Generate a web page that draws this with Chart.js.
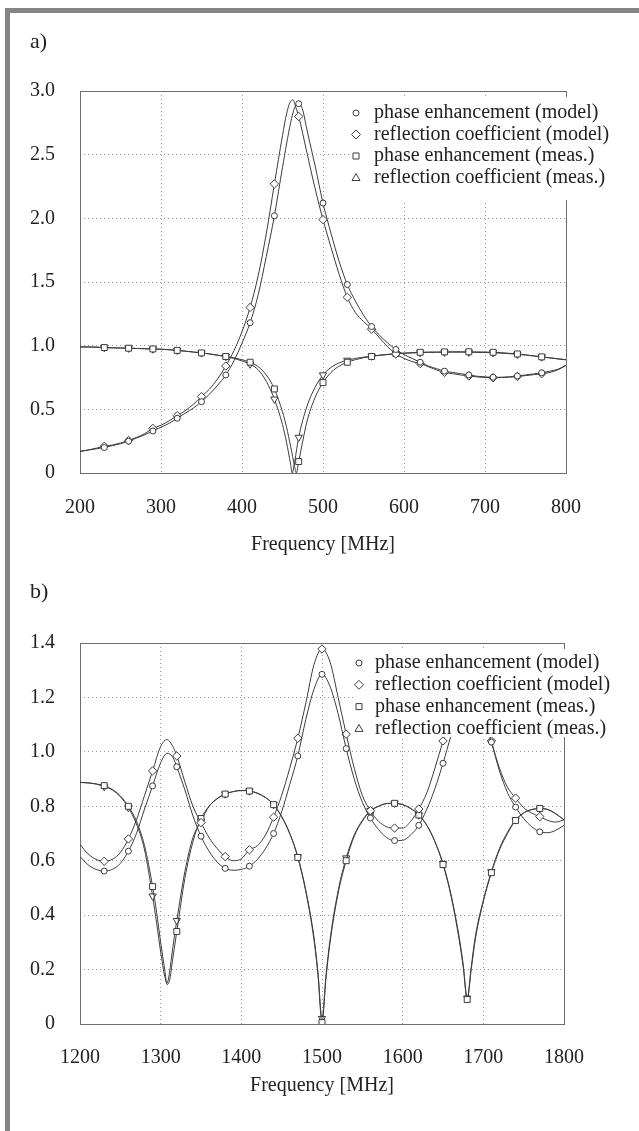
<!DOCTYPE html>
<html>
<head>
<meta charset="utf-8">
<script src="https://cdn.jsdelivr.net/npm/chart.js@4.4.0/dist/chart.umd.min.js"></script>
<style>
  html, body { margin: 0; padding: 0; background: #fff; }
  body { width: 639px; height: 1131px; position: relative; overflow: hidden; }
  .bar-top { position: absolute; left: 5px; top: 8px; width: 634px; height: 5px; background: #858585; }
  .bar-left { position: absolute; left: 5px; top: 8px; width: 5px; height: 1123px; background: #858585; }
  canvas { position: absolute; left: 0; }
  #chartA { top: 0; }
  #chartB { top: 570px; }
</style>
</head>
<body>
<div class="bar-top"></div>
<div class="bar-left"></div>
<canvas id="chartA" width="639" height="570"></canvas>
<canvas id="chartB" width="639" height="561"></canvas>
<script>
const seriesNames = ['phase enhancement (model)', 'reflection coefficient (model)', 'phase enhancement (meas.)', 'reflection coefficient (meas.)'];

// ---- a) 200 - 800 MHz ----
const aCircleF = [200,210,220,230,240,250,260,270,280,290,300,310,320,330,340,350,360,370,380,390,400,410,420,430,440,450,460,465,470,475,480,490,500,510,520,530,540,550,560,570,580,590,600,610,620,630,640,650,660,670,680,690,700,710,720,730,740,750,760,770,780,790,800];
const aCircleV = [0.17,0.18,0.19,0.20,0.215,0.23,0.25,0.275,0.30,0.33,0.36,0.39,0.43,0.47,0.51,0.56,0.62,0.69,0.77,0.88,1.02,1.18,1.40,1.70,2.02,2.40,2.75,2.87,2.90,2.85,2.70,2.42,2.12,1.88,1.66,1.48,1.35,1.24,1.15,1.08,1.02,0.97,0.93,0.90,0.87,0.84,0.82,0.80,0.79,0.78,0.77,0.76,0.755,0.752,0.752,0.756,0.762,0.77,0.778,0.787,0.80,0.815,0.845];

const aDiamondF = [200,210,220,230,240,250,260,270,280,290,300,310,320,330,340,350,360,370,380,390,400,410,420,430,440,450,455,460,463,466,470,480,490,500,510,520,530,540,550,560,570,580,590,600,610,620,630,640,650,660,670,680,690,700,710,720,730,740,750,760,770,780,790,800];
const aDiamondV = [0.17,0.18,0.195,0.21,0.22,0.235,0.255,0.28,0.31,0.35,0.375,0.41,0.45,0.49,0.54,0.60,0.66,0.74,0.84,0.96,1.11,1.30,1.55,1.88,2.27,2.65,2.82,2.92,2.93,2.88,2.80,2.52,2.24,1.99,1.77,1.56,1.38,1.26,1.19,1.13,1.06,0.99,0.935,0.90,0.875,0.86,0.835,0.81,0.79,0.78,0.77,0.762,0.755,0.75,0.748,0.75,0.752,0.758,0.765,0.772,0.78,0.79,0.81,0.845];

const aSquareF = [200,210,220,230,240,250,260,270,280,290,300,310,320,330,340,350,360,370,380,390,400,410,420,430,440,450,455,460,465,467,470,475,480,490,500,510,520,530,540,550,560,570,580,590,600,610,620,630,640,650,660,670,680,690,700,710,720,730,740,750,760,770,780,790,800];
const aSquareV = [0.99,0.99,0.988,0.985,0.983,0.982,0.98,0.978,0.976,0.974,0.972,0.968,0.963,0.957,0.95,0.943,0.935,0.925,0.915,0.905,0.89,0.87,0.835,0.77,0.66,0.48,0.36,0.21,0.05,0.0,0.09,0.25,0.40,0.59,0.71,0.79,0.84,0.87,0.89,0.905,0.915,0.925,0.932,0.938,0.942,0.945,0.948,0.95,0.95,0.951,0.952,0.952,0.952,0.951,0.95,0.948,0.945,0.94,0.935,0.928,0.92,0.912,0.905,0.897,0.89];

const aTriangleF = [200,210,220,230,240,250,260,270,280,290,300,310,320,330,340,350,360,370,380,390,400,410,420,430,440,450,455,460,462,465,470,480,490,500,510,520,530,540,550,560,570,580,590,600,610,620,630,640,650,660,670,680,690,700,710,720,730,740,750,760,770,780,790,800];
const aTriangleV = [0.99,0.99,0.988,0.985,0.983,0.982,0.98,0.978,0.976,0.974,0.972,0.968,0.963,0.957,0.95,0.943,0.935,0.925,0.915,0.9,0.88,0.855,0.81,0.72,0.58,0.38,0.24,0.07,0.0,0.09,0.28,0.52,0.67,0.77,0.83,0.865,0.885,0.90,0.91,0.918,0.925,0.93,0.935,0.94,0.943,0.945,0.947,0.948,0.948,0.949,0.949,0.948,0.947,0.946,0.944,0.941,0.937,0.932,0.926,0.919,0.911,0.904,0.896,0.889];

const aMarks = [230,260,290,320,350,380,410,440,470,500,530,560,590,620,650,680,710,740,770];

// ---- b) 1200 - 1800 MHz ----
const bPeakF = [1200,1210,1220,1230,1240,1250,1260,1270,1280,1290,1300,1308,1315,1320,1330,1340,1350,1360,1370,1380,1390,1400,1410,1420,1430,1440,1450,1460,1470,1480,1490,1500,1510,1520,1530,1540,1550,1560,1570,1580,1590,1600,1610,1620,1630,1640,1650,1660,1670,1680,1690,1700,1710,1720,1730,1740,1750,1760,1770,1780,1790,1800];
const bCircleV = [0.615,0.585,0.568,0.562,0.568,0.59,0.635,0.70,0.79,0.875,0.96,0.995,0.98,0.945,0.86,0.765,0.69,0.635,0.595,0.572,0.565,0.568,0.58,0.605,0.645,0.70,0.78,0.88,0.985,1.12,1.23,1.285,1.24,1.14,1.012,0.90,0.815,0.757,0.715,0.685,0.674,0.675,0.695,0.73,0.79,0.865,0.958,1.06,1.15,1.2,1.2,1.13,1.036,0.93,0.85,0.797,0.755,0.725,0.706,0.703,0.712,0.73];
const bDiamondV = [0.66,0.625,0.605,0.598,0.605,0.63,0.68,0.75,0.84,0.93,1.02,1.045,1.02,0.985,0.89,0.80,0.74,0.685,0.645,0.615,0.60,0.607,0.64,0.655,0.695,0.76,0.84,0.94,1.05,1.18,1.32,1.378,1.33,1.2,1.065,0.94,0.84,0.784,0.745,0.725,0.72,0.72,0.745,0.79,0.85,0.94,1.04,1.14,1.24,1.28,1.26,1.16,1.04,0.94,0.87,0.83,0.795,0.775,0.762,0.748,0.742,0.75];

const bDipF = [1200,1210,1220,1230,1240,1250,1260,1270,1280,1290,1295,1300,1305,1308,1311,1315,1320,1330,1340,1350,1360,1370,1380,1390,1400,1410,1420,1430,1440,1450,1460,1470,1480,1490,1495,1500,1505,1510,1520,1530,1540,1550,1560,1570,1580,1590,1600,1610,1620,1630,1640,1650,1660,1670,1675,1680,1685,1690,1700,1710,1720,1730,1740,1750,1760,1770,1780,1790,1800];
const bSquareV = [0.888,0.886,0.882,0.876,0.862,0.838,0.80,0.745,0.655,0.505,0.41,0.30,0.20,0.145,0.16,0.24,0.34,0.535,0.67,0.755,0.80,0.828,0.845,0.854,0.858,0.856,0.848,0.832,0.806,0.762,0.70,0.612,0.485,0.31,0.18,0.005,0.17,0.30,0.48,0.60,0.69,0.745,0.782,0.80,0.81,0.811,0.806,0.792,0.768,0.73,0.67,0.586,0.47,0.31,0.21,0.09,0.2,0.31,0.45,0.556,0.64,0.70,0.748,0.775,0.788,0.792,0.788,0.772,0.75];
const bTriangleV = [0.888,0.886,0.882,0.872,0.86,0.835,0.795,0.735,0.64,0.47,0.37,0.265,0.175,0.15,0.19,0.28,0.38,0.56,0.685,0.745,0.80,0.828,0.845,0.854,0.858,0.856,0.848,0.832,0.806,0.762,0.70,0.615,0.49,0.32,0.19,0.02,0.18,0.31,0.49,0.61,0.695,0.748,0.784,0.80,0.81,0.811,0.806,0.792,0.768,0.73,0.67,0.59,0.475,0.32,0.22,0.095,0.21,0.32,0.455,0.56,0.645,0.705,0.75,0.776,0.788,0.792,0.788,0.772,0.75];

const bMarks = [1230,1260,1290,1320,1350,1380,1410,1440,1470,1500,1530,1560,1590,1620,1650,1680,1710,1740,1770];

// ---- drawing ----
const FONT = '"Liberation Serif", "Times New Roman", serif';
Chart.defaults.font.family = FONT;
Chart.defaults.font.size = 20;
Chart.defaults.color = '#222';

const shapes = ['circle', 'rectRot', 'rect', 'triangle'];
const radii = [3, 4.2, 4.2, 4.2];
const rotations = [0, 0, 0, 180];
const INK = '#3c3c3c';

function pairs(f, v) { return f.map((x, i) => ({ x: x, y: v[i] })); }

// open marker shapes for the legend
function drawMark(c, style, x, y) {
  c.beginPath();
  if (style === 'circle') c.arc(x, y, 3, 0, Math.PI * 2);
  else if (style === 'rectRot') { c.moveTo(x, y - 4.5); c.lineTo(x + 4.5, y); c.lineTo(x, y + 4.5); c.lineTo(x - 4.5, y); c.closePath(); }
  else if (style === 'rect') c.rect(x - 3, y - 3, 6, 6);
  else { c.moveTo(x, y - 4); c.lineTo(x + 4, y + 3); c.lineTo(x - 4, y + 3); c.closePath(); }
  c.fillStyle = '#fff'; c.fill();
  c.lineWidth = 1; c.strokeStyle = INK; c.stroke();
}

const frame = {
  id: 'frame',
  beforeDatasetsDraw(chart) {
    const a = chart.chartArea, c = chart.ctx;
    c.save();
    c.strokeStyle = '#6e6e6e'; c.lineWidth = 1;
    c.strokeRect(Math.round(a.left) + 0.5, Math.round(a.top) + 0.5, Math.round(a.right - a.left), Math.round(a.bottom - a.top));
    c.restore();
  }
};

const legendBox = {
  id: 'legendBox',
  afterDatasetsDraw(chart, args, o) {
    const c = chart.ctx;
    c.save();
    c.fillStyle = '#fff';
    c.fillRect(o.x1, o.y1, o.x2 - o.x1, o.y2 - o.y1);
    c.font = '20px ' + FONT;
    c.textBaseline = 'middle';
    c.textAlign = 'left';
    chart.data.datasets.forEach((ds, i) => {
      const y = o.row0 + i * o.step;
      drawMark(c, shapes[i], o.mx, y);
      c.fillStyle = '#222';
      c.fillText(ds.label, o.tx, y);
    });
    c.restore();
  }
};

const captions = {
  id: 'captions',
  afterDraw(chart, args, o) {
    const c = chart.ctx, a = chart.chartArea;
    c.save();
    c.fillStyle = '#222';
    c.textBaseline = 'middle';
    c.font = '22px ' + FONT;
    c.textAlign = 'left';
    c.fillText(o.panel, 30, o.panelY);
    c.font = '20px ' + FONT;
    c.textAlign = 'center';
    c.fillText('Frequency [MHz]', (a.left + a.right) / 2, o.titleY);
    c.restore();
  }
};

function makeChart(id, p) {
  const datasets = p.series.map((s, i) => ({
    label: seriesNames[i],
    data: pairs(s[0], s[1]),
    borderColor: INK,
    borderWidth: 1,
    backgroundColor: '#fff',
    pointStyle: shapes[i],
    pointRotation: rotations[i],
    pointBorderColor: INK,
    pointBorderWidth: 1,
    pointBackgroundColor: '#fff',
    pointRadius: ctx => (ctx.raw && p.marks.includes(ctx.raw.x)) ? radii[i] : 0,
    pointHoverRadius: 0,
    cubicInterpolationMode: 'monotone',
    fill: false
  }));
  return new Chart(document.getElementById(id), {
    type: 'line',
    data: { datasets: datasets },
    options: {
      responsive: false,
      animation: false,
      events: [],
      layout: { padding: { left: 0, top: p.padTop, right: p.padRight, bottom: 0 } },
      scales: {
        x: {
          type: 'linear', min: p.xMin, max: p.xMax,
          afterFit: s => { s.height = p.xHeight; },
          ticks: { stepSize: 100, padding: p.xPad, maxRotation: 0, autoSkip: false, callback: v => String(v) },
          grid: { color: '#9a9a9a', lineWidth: 1, drawTicks: false },
          border: { display: false, dash: [1, 3] }
        },
        y: {
          min: 0, max: p.yMax,
          afterFit: s => { s.width = 80; },
          ticks: { stepSize: p.yStep, padding: 25, callback: v => v === 0 ? '0' : v.toFixed(1) },
          grid: { color: '#9a9a9a', lineWidth: 1, drawTicks: false },
          border: { display: false, dash: [1, 3] }
        }
      },
      plugins: {
        legend: { display: false },
        tooltip: { enabled: false },
        legendBox: p.legend,
        captions: p.captions
      }
    },
    plugins: [frame, legendBox, captions]
  });
}

makeChart('chartA', {
  series: [[aCircleF, aCircleV], [aDiamondF, aDiamondV], [aSquareF, aSquareV], [aTriangleF, aTriangleV]],
  marks: aMarks,
  xMin: 200, xMax: 800, yMax: 3, yStep: 0.5,
  padTop: 91, padRight: 73, xHeight: 97, xPad: 23,
  legend: { x1: 352, y1: 97, x2: 626, y2: 200, row0: 113, step: 21.5, mx: 356, tx: 374 },
  captions: { panel: 'a)', panelY: 42, titleY: 545 }
});

makeChart('chartB', {
  series: [[bPeakF, bCircleV], [bPeakF, bDiamondV], [bDipF, bSquareV], [bDipF, bTriangleV]],
  marks: bMarks,
  xMin: 1200, xMax: 1800, yMax: 1.4, yStep: 0.2,
  padTop: 73, padRight: 75, xHeight: 107, xPad: 22,
  legend: { x1: 356, y1: 79, x2: 626, y2: 167, row0: 93, step: 21.8, mx: 359, tx: 375 },
  captions: { panel: 'b)', panelY: 22, titleY: 516 }
});
</script>
</body>
</html>
